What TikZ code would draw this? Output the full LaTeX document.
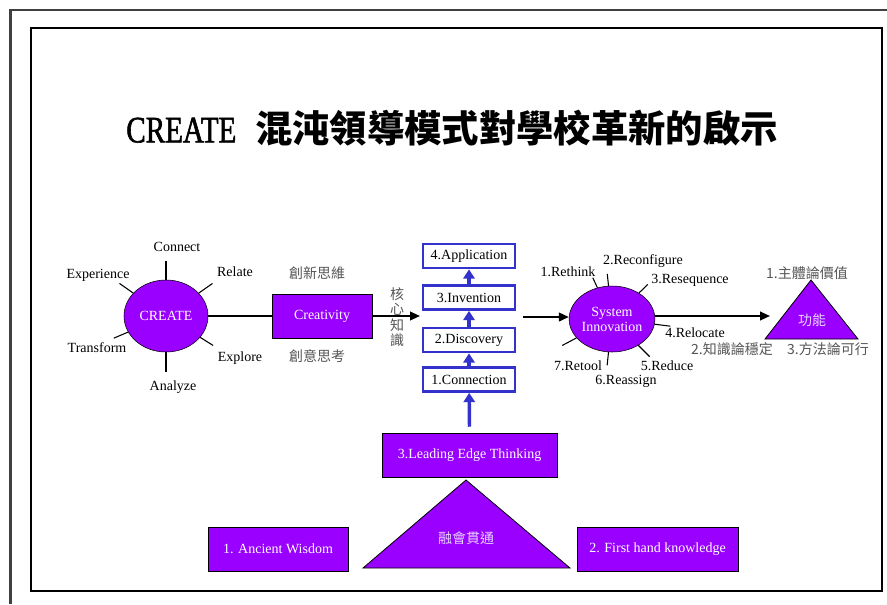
\documentclass[tikz,border=0pt]{standalone}
\usepackage{fontspec}
\setmainfont{Liberation Serif}
\newfontfamily\cjk{Noto Sans CJK TC}
\newfontfamily\titlefont[FakeStretch=0.78,FakeBold=1.5]{Liberation Serif}
\usetikzlibrary{shapes.geometric,calc,arrows.meta}
\definecolor{violetfill}{RGB}{153,0,255}
\definecolor{boxblue}{RGB}{51,51,204}
\definecolor{labgray}{RGB}{85,85,85}
\definecolor{lavender}{RGB}{232,210,255}
\newcommand\labsize{\fontsize{10.5}{12.6}\selectfont}
\tikzset{
	purplebox/.style={draw=black, fill=violetfill, text=white, minimum height=33pt, inner sep=0pt},
	bluebox/.style={draw=boxblue, line width=2pt, fill=white, minimum width=69pt, minimum height=18pt, inner sep=0pt},
	hub/.style={ellipse, draw=black, fill=violetfill, text=white, inner sep=0pt, align=center},
	spoke/.style={line width=0.8pt},
	blueup/.style={boxblue, line width=2.6pt, -{Triangle[length=7pt,width=8.5pt]}},
	flow/.style={line width=1.5pt, -{Triangle[length=7.5pt,width=6.5pt]}},
	cjklab/.style={text=labgray, font=\labsize\cjk},
}

\begin{document}
\begin{tikzpicture}[x=0.75pt, y=-0.75pt, font=\labsize]
		\useasboundingbox (0,0) rectangle (887,604);
		% frames
		\draw[line width=1.6pt, black!75] (10.5,604) -- (10.5,10) -- (887,10);
		\draw[line width=2pt] (31,28) rectangle (882,591);
		\node (title) at (452,128) {{\fontsize{28}{30}\selectfont\titlefont CREATE}\hspace{14pt}{\fontsize{28}{30}\selectfont\cjk\bfseries 混沌領導模式對學校革新的啟示}};
		% CREATE hub
		\node[hub, minimum width=63pt, minimum height=54pt] (cr) at (166,316) {CREATE};
		\foreach \a/\f in {90/1.52,35/1.42,145/1.42,203/1.38,328/1.38,270/1.55}{
			\draw[spoke] (cr.\a) -- ($(cr.center)!\f!(cr.\a)$);
		}
		\node (connect) at (177,247) {Connect};
		\node (relate) at (235,272) {Relate};
		\node (experience) at (98,275) {Experience};
		\node (transform) at (97,348) {Transform};
		\node (explore) at (240,358) {Explore};
		\node (analyze) at (173,387) {Analyze};
		\node[purplebox, minimum width=75pt] (cvt) at (322,316) {Creativity};
		\node[cjklab] (newthink) at (317,273) {創新思維};
		\node[cjklab] (newidea) at (317,356) {創意思考};
		\draw[line width=1.8pt] (cr) -- (cvt);
		\coordinate (core) at (420,316);
		\draw[flow] (cvt) -- (core);
		\node[cjklab, align=center, font=\fontsize{10.5}{11.6}\selectfont\cjk] (corek) at (397,317) {核\\心\\知\\識};
		% knowledge column
		\node[bluebox] (app) at (469,256) {4.Application};
		\node[bluebox] (inv) at (469,297.5) {3.Invention};
		\node[bluebox] (disc) at (469,340) {2.Discovery};
		\node[bluebox] (conn) at (469,379.5) {1.Connection};
		\foreach \lo/\hi in {conn/disc,disc/inv,inv/app}{
			\draw[blueup] (\lo) -- (\hi);
		}
		\node[purplebox, minimum width=131pt] (lead) at (469.5,455) {3.Leading Edge Thinking};
		\draw[blueup] ([yshift=4.5pt]lead.north) -- (conn);
		% system innovation hub
		\node[hub, minimum width=59pt, minimum height=49.5pt, font=\fontsize{10.5}{11.3}\selectfont] (si) at (612,319) {System\\Innovation};
		\foreach \a/\f in {115/1.32,96/1.36,44/1.33,353/1.37,315/1.43,264/1.4,208/1.4}{
			\draw[spoke] (si.\a) -- ($(si.center)!\f!(si.\a)$);
		}
		\node (rethink) at (568,272) {1.Rethink};
		\node (reconf) at (643,261) {2.Reconfigure};
		\node (reseq) at (690,280) {3.Resequence};
		\node (reloc) at (695,333) {4.Relocate};
		\node (reduce) at (667,366) {5.Reduce};
		\node (reassign) at (626,381) {6.Reassign};
		\node (retool) at (578,366) {7.Retool};
		\coordinate (colout) at (523,317);
		\draw[flow] (colout) -- (colout -| si.west);
		% function triangle
		\coordinate (fnT) at (811,280);
		\coordinate (fnL) at (765,339);
		\coordinate (fnR) at (858,339);
		\filldraw[fill=violetfill, draw=black, line width=0.6pt] (fnT) -- (fnL) -- (fnR) -- cycle;
		\node[font=\labsize\cjk, text=lavender] (fn) at (812,320) {功能};
		\coordinate (fnin) at (770,316);
		\draw[flow] (si.east |- fnin) -- (fnin);
		\node[cjklab] (ontology) at (807,273) {1.主體論價值};
		\node[cjklab] (epist) at (732,349) {2.知識論穩定};
		\node[cjklab] (method) at (828,349) {3.方法論可行};
		% foundation
		\coordinate (baseT) at (466,480);
		\coordinate (baseL) at (363,568);
		\coordinate (baseR) at (570,568);
		\filldraw[fill=violetfill, draw=black, line width=0.6pt] (baseT) -- (baseL) -- (baseR) -- cycle;
		\node[font=\labsize\cjk, text=lavender] (fuse) at (466,538) {融會貫通};
		\node[purplebox, minimum width=105pt] (wisdom) at (278,549) {1. Ancient Wisdom};
		\node[purplebox, minimum width=121pt] (firsthand) at (657.5,549) {2. First hand knowledge};
	\end{tikzpicture}
\end{document}
